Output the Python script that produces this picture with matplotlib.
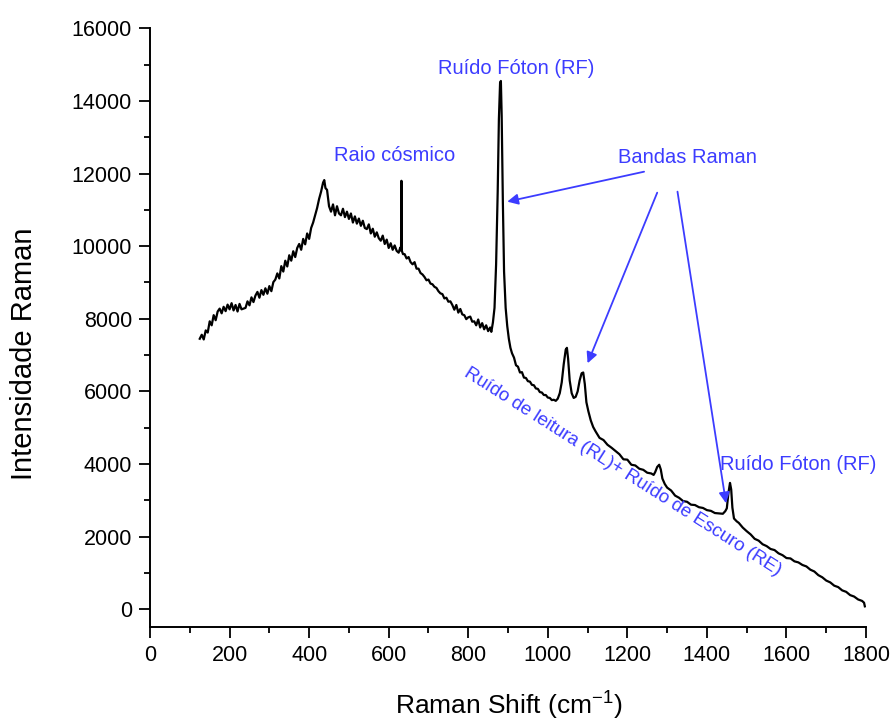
import matplotlib
matplotlib.use("Agg")
import matplotlib.pyplot as plt
from matplotlib.ticker import MultipleLocator

plt.rcParams['font.family'] = ['Liberation Sans', 'DejaVu Sans']

# spectrum (cm-1, counts)
raman_shift = [125, 130, 135, 140, 145, 150, 155, 160, 165, 170, 175, 180, 185, 190, 195,
               200, 205, 210, 215, 220, 225, 230, 240, 245, 250, 255, 260, 265, 270, 275,
               280, 285, 290, 295, 300, 305, 310, 315, 320, 325, 330, 335, 340, 345, 350,
               355, 360, 365, 370, 375, 380, 385, 390, 395, 400, 405, 410, 415, 420, 425,
               430, 435, 438, 441, 445, 450, 455, 460, 465, 470, 475, 480, 485, 490, 495,
               500, 505, 510, 515, 520, 525, 530, 535, 540, 545, 550, 555, 560, 565, 570,
               575, 580, 585, 590, 595, 600, 605, 610, 615, 620, 625, 629, 631, 632, 633,
               636, 640, 645, 650, 655, 660, 665, 670, 675, 680, 685, 690, 695, 700, 705,
               710, 715, 720, 725, 730, 735, 740, 745, 750, 755, 760, 765, 770, 775, 780,
               785, 790, 795, 800, 805, 810, 815, 820, 825, 830, 835, 840, 845, 850, 855,
               858, 862, 866, 870, 874, 877, 880, 882, 884, 887, 890, 894, 898, 902, 906,
               910, 915, 920, 925, 930, 935, 940, 945, 950, 955, 960, 965, 970, 975, 980,
               985, 990, 995, 1000, 1005, 1010, 1015, 1020, 1025, 1030, 1035, 1040, 1045, 1048, 1051,
               1055, 1060, 1065, 1070, 1075, 1080, 1085, 1089, 1093, 1097, 1102, 1108, 1114, 1120, 1130,
               1140, 1150, 1160, 1170, 1180, 1190, 1200, 1210, 1220, 1230, 1240, 1250, 1260, 1266, 1270,
               1275, 1280, 1284, 1288, 1294, 1300, 1310, 1320, 1330, 1340, 1350, 1360, 1370, 1380, 1390,
               1400, 1410, 1420, 1430, 1440, 1446, 1450, 1454, 1458, 1461, 1464, 1468, 1475, 1480, 1490,
               1500, 1510, 1520, 1530, 1540, 1550, 1560, 1570, 1580, 1590, 1600, 1610, 1620, 1630, 1640,
               1650, 1660, 1670, 1680, 1690, 1700, 1710, 1720, 1730, 1740, 1750, 1760, 1770, 1780, 1790,
               1795, 1797]
intensity = [7450, 7560, 7430, 7680, 7620, 7930, 7820, 8100, 7960, 8200, 8280, 8150, 8330, 8210, 8390,
             8260, 8430, 8230, 8380, 8200, 8410, 8260, 8300, 8480, 8370, 8590, 8460, 8640, 8740, 8580,
             8790, 8660, 8840, 8690, 8900, 8760, 9010, 9080, 9250, 9110, 9450, 9300, 9600, 9440, 9750,
             9600, 9860, 9700, 9950, 10060, 9900, 10200, 10050, 10350, 10200, 10500, 10650, 10850, 11050, 11300,
             11500, 11750, 11820, 11600, 11550, 11100, 10950, 11150, 10850, 11100, 10900, 10850, 11030, 10800, 10950,
             10750, 10900, 10650, 10820, 10620, 10760, 10560, 10700, 10500, 10470, 10600, 10350, 10480, 10260, 10380,
             10220, 10150, 10290, 10060, 10180, 9950, 10080, 9900, 10020, 9870, 9820, 9960, 9880, 11800, 9870,
             9780, 9780, 9660, 9700, 9560, 9500, 9560, 9380, 9380, 9260, 9220, 9150, 9060, 9080, 8970,
             8950, 8880, 8850, 8760, 8700, 8680, 8560, 8580, 8470, 8480, 8380, 8250, 8380, 8170, 8270,
             8120, 8100, 7990, 8040, 8060, 7920, 7930, 7820, 7980, 7760, 7880, 7710, 7820, 7660, 7760,
             7640, 7900, 8300, 9500, 11500, 13500, 14500, 14550, 13600, 11200, 9300, 8300, 7800, 7450, 7200,
             7050, 6930, 6720, 6680, 6520, 6530, 6380, 6370, 6280, 6270, 6180, 6170, 6080, 6070, 5980,
             5970, 5900, 5900, 5830, 5820, 5760, 5770, 5740, 5800, 5950, 6250, 6750, 7150, 7200, 6900,
             6300, 5950, 5820, 5850, 6000, 6300, 6500, 6520, 6200, 5700, 5450, 5200, 5020, 4900, 4720,
             4660, 4530, 4450, 4360, 4270, 4130, 4120, 3980, 3960, 3870, 3840, 3760, 3740, 3700, 3780,
             3920, 3980, 3850, 3600, 3450, 3350, 3270, 3130, 3070, 2980, 2960, 2880, 2870, 2810, 2790,
             2730, 2710, 2650, 2640, 2630, 2700, 2780, 3200, 3480, 3300, 2800, 2500, 2420, 2380, 2250,
             2150, 2060, 1940, 1890, 1790, 1740, 1660, 1630, 1540, 1490, 1410, 1400, 1320, 1290, 1220,
             1180, 1090, 1040, 940, 880, 790, 740, 650, 610, 520, 480, 390, 350, 270, 230,
             180, 80]

blue = '#3c3cff'

fig = plt.figure(figsize=(8.92, 7.2), dpi=100)
ax = fig.add_axes([0.1682, 0.1296, 0.8027, 0.8311])

ax.plot(raman_shift, intensity, color='black', lw=1.6)

ax.set_xlim(0, 1800)
ax.set_ylim(-480, 16000)
ax.xaxis.set_major_locator(MultipleLocator(200))
ax.xaxis.set_minor_locator(MultipleLocator(100))
ax.yaxis.set_major_locator(MultipleLocator(2000))
ax.yaxis.set_minor_locator(MultipleLocator(1000))

# only left and bottom axis like origin plots
ax.spines['top'].set_visible(False)
ax.spines['right'].set_visible(False)
ax.spines['left'].set_linewidth(1.4)
ax.spines['bottom'].set_linewidth(1.4)
ax.tick_params(which='major', length=8, width=1.3, labelsize=15.5, pad=5)
ax.tick_params(which='minor', length=4, width=1.3)

fig.text(31.7 / 892, 1 - 354 / 720, 'Intensidade Raman', fontsize=21, rotation=90,
         rotation_mode='anchor', ha='center', va='baseline')
fig.text(509 / 892, 6 / 720, 'Raman Shift (cm$^{\\mathregular{-1}}$)', fontsize=19,
         ha='center', va='baseline')

# labels
ax.text(616, 12500, 'Raio cósmico', color=blue, fontsize=14.5, ha='center', va='center')
ax.text(920, 14900, 'Ruído Fóton (RF)', color=blue, fontsize=14.5, ha='center', va='center')
ax.text(1350, 12450, 'Bandas Raman', color=blue, fontsize=14.5, ha='center', va='center')
ax.text(1630, 4000, 'Ruído Fóton (RF)', color=blue, fontsize=14.5, ha='center', va='center')
ax.text(1187, 3790, 'Ruído de leitura (RL)+ Ruído de Escuro (RE)', color=blue, fontsize=13.5,
        rotation=-32.5, rotation_mode='anchor', ha='center', va='center')

# arrows from "Bandas Raman"
arrow = dict(arrowstyle='-|>', color=blue, lw=1.3, mutation_scale=16, shrinkA=0, shrinkB=0)
ax.annotate('', xy=(898, 11226), xytext=(1242, 12051), arrowprops=arrow)
ax.annotate('', xy=(1100, 6775), xytext=(1275, 11473), arrowprops=arrow)
ax.annotate('', xy=(1448, 2919), xytext=(1326, 11501), arrowprops=arrow)

fig.savefig('out.png', dpi=100)
